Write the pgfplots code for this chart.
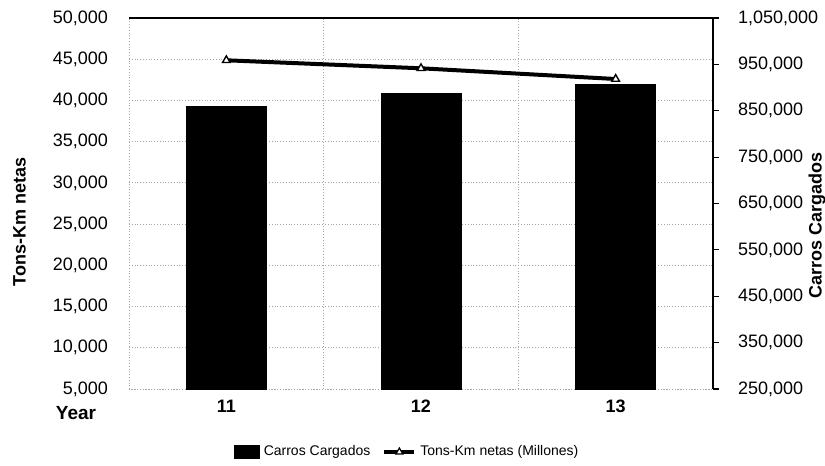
\documentclass[border=0pt]{standalone}
\usepackage{fontspec}
\setmainfont{Liberation Sans}
\usepackage{pgfplots}
\pgfplotsset{compat=1.18}
\pgfplotsset{
  shortline legend/.style={legend image code/.code={%
    \draw[mark repeat=2, mark phase=2, ##1] plot coordinates {(0pt,0pt) (7.5pt,0pt) (15pt,0pt)};}},
  box legend/.style={legend image code/.code={%
    \fill[black] (0pt,-3.25pt) rectangle (12.5pt,3.25pt);}},
}

\begin{document}
\begin{tikzpicture}
\pgfplotsset{
  chartbase/.style={
    scale only axis, width=292pt, height=185.5pt,
    at={(0,0)}, anchor=south west,
    xmin=0.5, xmax=3.5,
    tick label style={font=\fontsize{9}{10}\selectfont},
    /pgf/number format/fixed,
    /pgf/number format/1000 sep={,},
    /pgf/number format/assume math mode=true,
    scaled y ticks=false,
  },
}
% left axis: Tons-Km netas (line), grid and frame
\begin{axis}[chartbase,
  ymin=5000, ymax=50000, ytick distance=5000,
  xtick={1,2,3}, xticklabels={11,12,13},
  xticklabel style={font=\fontsize{9}{10}\selectfont\bfseries, yshift=-2pt},
  minor xtick={1.5,2.5},
  ymajorgrids, xminorgrids,
  grid style={gray!70, densely dotted},
  minor grid style={gray!70, densely dotted},
  major tick length=0pt, minor tick length=0pt,
  axis line style={gray!70, densely dotted},
  yticklabel style={xshift=-7pt},
  ylabel={Tons-Km netas},
  ylabel style={font=\fontsize{9}{10}\selectfont\bfseries,
    at={(axis description cs:0,0.451)}, anchor=center, yshift=54.75pt},
  clip=false,
]
\addplot[black, line width=2pt, mark=triangle*, mark size=2.2pt,
  mark options={fill=white, line width=0.7pt}]
  coordinates {(1,44870) (2,43900) (3,42600)};
\node[font=\fontsize{9.5}{10}\selectfont\bfseries] at (rel axis cs:0,0)
  [xshift=-26.5pt, yshift=-12pt] {Year};
\end{axis}
% right axis: Carros Cargados (bars)
\begin{axis}[chartbase,
  ymin=250000, ymax=1050000,
  ytick={250000,350000,450000,550000,650000,750000,850000,950000,1050000},
  axis y line*=right, axis x line*=top,
  xtick=\empty,
  y axis line style={black, line width=0.8pt},
  x axis line style={black, line width=0.6pt},
  ytick style={black, line width=0.6pt},
  tick align=outside, major tick length=3pt,
  yticklabel style={xshift=6pt},
  ylabel={Carros Cargados},
  ylabel style={font=\fontsize{9}{10}\selectfont\bfseries,
    at={(axis description cs:1,0.44)}, anchor=center, yshift=-52pt},
  legend columns=2,
  legend style={at={(0.478,0)}, anchor=center, yshift=-31.5pt, draw=none,
    font=\fontsize{7}{8}\selectfont,
    /tikz/every even column/.append style={column sep=4pt}},
]
\addplot[ybar, bar width=40pt, fill=black, draw=black, box legend]
  coordinates {(1,858700) (2,887600) (3,907000)};
\addlegendentry{Carros Cargados}
\addlegendimage{black, line width=2pt, mark=triangle*, mark size=2pt,
  mark options={fill=white, line width=0.6pt}, shortline legend}
\addlegendentry{Tons-Km netas (Millones)}
\end{axis}
\pgfresetboundingbox
\path (-64.5pt,-38.5pt) rectangle (348pt,194.5pt);
\end{tikzpicture}
\end{document}
